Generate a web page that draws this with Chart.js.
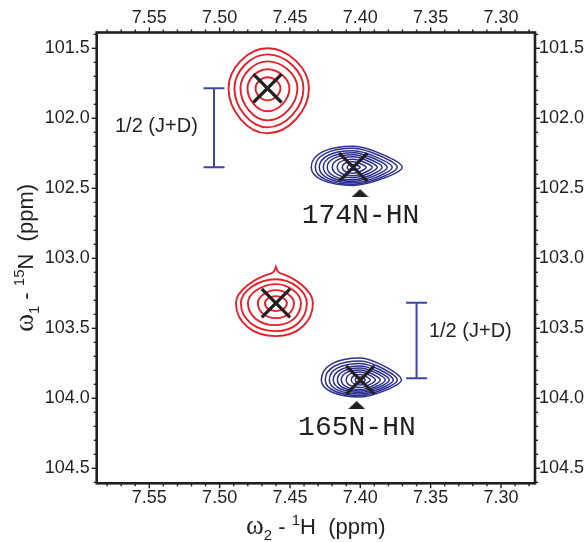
<!DOCTYPE html>
<html>
<head>
<meta charset="utf-8">
<script src="https://cdn.jsdelivr.net/npm/chart.js@4.4.0/dist/chart.umd.min.js"></script>
<style>
  html, body { margin: 0; padding: 0; background: #fff; }
</style>
</head>
<body>
<canvas id="hsqc" width="588" height="542"></canvas>
<script>
// axis ranges (ppm) and major tick labels
const hMin = 7.2758, hMax = 7.5874;
const nMin = 101.387, nMax = 104.607;
const hMajor = [7.55, 7.50, 7.45, 7.40, 7.35, 7.30];
const nMajor = [101.5, 102.0, 102.5, 103.0, 103.5, 104.0, 104.5];

// cross peak centres: 1H shift, 15N shift
const peakH = [7.466, 7.405, 7.460, 7.400];
const peakN = [101.786, 102.350, 103.320, 103.869];

// contour rings, outer to inner: [left, right, up, down] extent from centre in ppm
const rings174Red = [
  [0.0277, 0.0295, 0.286, 0.321],
  [0.0235, 0.0256, 0.243, 0.279],
  [0.0192, 0.0213, 0.193, 0.229],
  [0.0142, 0.0156, 0.136, 0.164],
  [0.0085, 0.0092, 0.079, 0.086]
];
const rings174Blue = [
  [0.0299, 0.0348, 0.150, 0.129],
  [0.0270, 0.0313, 0.136, 0.121],
  [0.0242, 0.0277, 0.118, 0.111],
  [0.0213, 0.0242, 0.104, 0.100],
  [0.0185, 0.0206, 0.089, 0.089],
  [0.0149, 0.0171, 0.075, 0.075],
  [0.0114, 0.0135, 0.057, 0.061],
  [0.0078, 0.0092, 0.039, 0.043],
  [0.0043, 0.0050, 0.021, 0.021]
];
const rings165Red = [
  [0.0284, 0.0263, 0.200, 0.236],
  [0.0249, 0.0220, 0.171, 0.200],
  [0.0199, 0.0178, 0.136, 0.157],
  [0.0128, 0.0128, 0.093, 0.107],
  [0.0078, 0.0078, 0.050, 0.057]
];
const rings165RedTip = 0.258;
const rings165Blue = [
  [0.0277, 0.0292, 0.157, 0.121],
  [0.0249, 0.0263, 0.136, 0.111],
  [0.0220, 0.0235, 0.118, 0.100],
  [0.0192, 0.0206, 0.100, 0.089],
  [0.0163, 0.0178, 0.086, 0.079],
  [0.0135, 0.0142, 0.071, 0.068],
  [0.0100, 0.0107, 0.057, 0.054],
  [0.0064, 0.0071, 0.039, 0.036],
  [0.0036, 0.0036, 0.021, 0.021]
];

// 1/2 (J+D) brackets
const bracketH = [7.504, 7.360];
const bracketTop = [101.786, 103.317];
const bracketBottom = [102.350, 103.857];
const bracketText = ["1/2 (J+D)", "1/2 (J+D)"];
const bracketTextH = [7.5744, 7.3512];
const bracketTextN = [102.060, 103.524];

// residue labels with their arrow heads
const residueLabels = ["174N-HN", "165N-HN"];
const residueH = [7.3999, 7.4024];
const residueN = [102.750, 104.262];
const arrowH = [7.4002, 7.4026];
const arrowN = [102.534, 104.048];

const ink = "#231f20";
const red = "#e6202a";
const navy = "#2b2f8e";
const bracketBlue = "#3c46a0";
const sans = "'Liberation Sans', Arial, sans-serif";

const contourSets = [
  { rings: rings174Red, peak: 0, color: red, width: 1.9, k: [0.5, 0.5, 0.5, 0.5] },
  { rings: rings174Blue, peak: 1, color: navy, width: 1.5, k: [0.62, 0.28, 0.3, 0.6] },
  { rings: rings165Red, peak: 2, color: red, width: 1.9, k: [0.5, 0.5, 0.58, 0.58], tip: rings165RedTip },
  { rings: rings165Blue, peak: 3, color: navy, width: 1.5, k: [0.62, 0.28, 0.3, 0.6] }
];

// arrow head image used as point style
const arrowImg = document.createElement("canvas");
arrowImg.width = 17;
arrowImg.height = 8;
const ac = arrowImg.getContext("2d");
ac.fillStyle = ink;
ac.beginPath();
ac.moveTo(8.5, 0);
ac.lineTo(17, 8);
ac.lineTo(0, 8);
ac.closePath();
ac.fill();

const stepTicks = (min, max, step, dec) => {
  const out = [];
  for (let i = Math.ceil(min / step - 1e-6); i * step <= max + 1e-9; i++) {
    out.push({ value: +(i * step).toFixed(dec) });
  }
  return out;
};
const isMajor = (list, v) => list.some((m) => Math.abs(m - v) < 1e-6);

const ringPath = (ctx, cx, cy, l, r, t, b, k, tip) => {
  ctx.beginPath();
  ctx.moveTo(cx - l, cy);
  if (tip) {
    // onion-like top rising smoothly into a small point
    ctx.bezierCurveTo(cx - l, cy - t * 0.45, cx - l * 0.5, cy - t * 0.9, cx - 7, cy - t - 1);
    ctx.bezierCurveTo(cx - 3, cy - t - 2, cx - 1.5, cy - tip + 5, cx, cy - tip);
    ctx.bezierCurveTo(cx + 1.5, cy - tip + 5, cx + 3, cy - t - 2, cx + 7, cy - t - 1);
    ctx.bezierCurveTo(cx + r * 0.5, cy - t * 0.9, cx + r, cy - t * 0.45, cx + r, cy);
  } else {
    ctx.bezierCurveTo(cx - l, cy - t * k[0], cx - l * k[0], cy - t, cx, cy - t);
    ctx.bezierCurveTo(cx + r * k[1], cy - t, cx + r, cy - t * k[1], cx + r, cy);
  }
  ctx.bezierCurveTo(cx + r, cy + b * k[2], cx + r * k[2], cy + b, cx, cy + b);
  ctx.bezierCurveTo(cx - l * k[3], cy + b, cx - l, cy + b * k[3], cx - l, cy);
  ctx.closePath();
};

const drawRich = (ctx, pieces, x, y) => {
  let total = 0;
  pieces.forEach((p) => {
    ctx.font = p.font;
    p.w = ctx.measureText(p.t).width;
    total += p.w;
  });
  let cur = x - total / 2;
  pieces.forEach((p) => {
    ctx.font = p.font;
    ctx.fillText(p.t, cur, y + (p.dy || 0));
    cur += p.w;
  });
};

const hsqcPlugin = {
  id: "hsqc",
  beforeDatasetsDraw(chart) {
    const { ctx, chartArea, scales } = chart;
    const xs = scales.x, ys = scales.y;
    ctx.save();
    ctx.beginPath();
    ctx.rect(chartArea.left, chartArea.top, chartArea.width, chartArea.height);
    ctx.clip();
    contourSets.forEach((set) => {
      const h = peakH[set.peak], n = peakN[set.peak];
      const cx = xs.getPixelForValue(h), cy = ys.getPixelForValue(n);
      ctx.strokeStyle = set.color;
      ctx.lineWidth = set.width;
      set.rings.forEach((ring, i) => {
        const l = cx - xs.getPixelForValue(h + ring[0]);
        const r = xs.getPixelForValue(h - ring[1]) - cx;
        const t = cy - ys.getPixelForValue(n - ring[2]);
        const b = ys.getPixelForValue(n + ring[3]) - cy;
        const tip = set.tip && i === 0 ? cy - ys.getPixelForValue(n - set.tip) : 0;
        ringPath(ctx, cx, cy, l, r, t, b, set.k, tip);
        ctx.stroke();
      });
    });
    ctx.restore();
  },
  afterDatasetsDraw(chart) {
    const { ctx, scales } = chart;
    const xs = scales.x, ys = scales.y;
    ctx.save();
    ctx.fillStyle = ink;
    ctx.font = "20px " + sans;
    ctx.textAlign = "left";
    ctx.textBaseline = "middle";
    bracketText.forEach((txt, i) => {
      ctx.fillText(txt, xs.getPixelForValue(bracketTextH[i]), ys.getPixelForValue(bracketTextN[i]));
    });
    ctx.font = "28px 'Liberation Mono', 'Courier New', monospace";
    ctx.textAlign = "center";
    ctx.textBaseline = "alphabetic";
    residueLabels.forEach((txt, i) => {
      ctx.fillText(txt, xs.getPixelForValue(residueH[i]), ys.getPixelForValue(residueN[i]));
    });
    ctx.restore();
  },
  afterDraw(chart) {
    const { ctx, chartArea } = chart;
    const { left, right, top, bottom } = chartArea;
    ctx.save();
    ctx.strokeStyle = ink;
    ctx.lineWidth = 1.4;
    ["x", "x2", "y", "y2"].forEach((id) => {
      const s = chart.scales[id];
      const major = id[0] === "x" ? hMajor : nMajor;
      s.ticks.forEach((tk) => {
        const p = s.getPixelForValue(tk.value);
        const len = isMajor(major, tk.value) ? 5 : 3;
        ctx.beginPath();
        if (id === "x") { ctx.moveTo(p, bottom); ctx.lineTo(p, bottom + len); }
        if (id === "x2") { ctx.moveTo(p, top); ctx.lineTo(p, top - len); }
        if (id === "y") { ctx.moveTo(left, p); ctx.lineTo(left - len, p); }
        if (id === "y2") { ctx.moveTo(right, p); ctx.lineTo(right + len, p); }
        ctx.stroke();
      });
    });
    ctx.lineWidth = 2.6;
    ctx.strokeRect(left, top, right - left, bottom - top);

    ctx.fillStyle = ink;
    ctx.textAlign = "left";
    ctx.textBaseline = "alphabetic";
    drawRich(ctx, [
      { t: "\u03c9", font: "27px 'Liberation Serif', serif" },
      { t: "2", font: "15px " + sans, dy: 6 },
      { t: " - ", font: "22px " + sans },
      { t: "1", font: "15px " + sans, dy: -9 },
      { t: "H  (ppm)", font: "22px " + sans }
    ], (left + right) / 2, 534);
    ctx.translate(33, (top + bottom) / 2);
    ctx.rotate(-Math.PI / 2);
    drawRich(ctx, [
      { t: "\u03c9", font: "27px 'Liberation Serif', serif" },
      { t: "1", font: "15px " + sans, dy: 6 },
      { t: " - ", font: "22px " + sans },
      { t: "15", font: "15px " + sans, dy: -9 },
      { t: "N  (ppm)", font: "22px " + sans }
    ], 0, 0);
    ctx.restore();
  }
};

const tickFont = { family: sans, size: 18 };
const hScale = (position, height, padding) => ({
  type: "linear",
  position,
  reverse: true,
  min: hMin,
  max: hMax,
  grid: { display: false, drawTicks: false },
  border: { display: false },
  afterBuildTicks: (s) => { s.ticks = stepTicks(hMin, hMax, 0.01, 2); },
  afterFit: (s) => { s.height = height; },
  ticks: {
    autoSkip: false, maxRotation: 0, minRotation: 0, padding, color: ink, font: tickFont,
    callback: (v) => (isMajor(hMajor, v) ? v.toFixed(2) : "")
  }
});
const nScale = (position, width, padding) => ({
  type: "linear",
  position,
  reverse: true,
  min: nMin,
  max: nMax,
  grid: { display: false, drawTicks: false },
  border: { display: false },
  afterBuildTicks: (s) => { s.ticks = stepTicks(nMin, nMax, 0.1, 1); },
  afterFit: (s) => { s.width = width; },
  ticks: {
    autoSkip: false, padding, color: ink, font: tickFont,
    callback: (v) => (isMajor(nMajor, v) ? v.toFixed(1) : "")
  }
});

new Chart(document.getElementById("hsqc"), {
  type: "scatter",
  data: {
    datasets: [
      {
        label: "peaks",
        data: peakH.map((h, i) => ({ x: h, y: peakN[i] })),
        pointStyle: "crossRot",
        pointRadius: 20,
        borderWidth: 3.2,
        borderColor: ink,
        backgroundColor: ink
      },
      ...bracketH.map((h, i) => ({
        label: "bracket " + i,
        data: [{ x: h, y: bracketTop[i] }, { x: h, y: bracketBottom[i] }],
        showLine: true,
        pointStyle: "line",
        pointRadius: 10.5,
        borderWidth: 2,
        borderColor: bracketBlue,
        backgroundColor: bracketBlue
      })),
      {
        label: "arrows",
        data: arrowH.map((h, i) => ({ x: h, y: arrowN[i] })),
        pointStyle: arrowImg,
        pointRadius: 8
      }
    ]
  },
  options: {
    responsive: false,
    animation: false,
    events: [],
    layout: { padding: 0 },
    plugins: { legend: { display: false }, tooltip: { enabled: false } },
    scales: {
      x: hScale("bottom", 542 - 483.3, 4),
      x2: hScale("top", 32.5, 4),
      y: nScale("left", 96.7, 7),
      y2: nScale("right", 588 - 535, 4)
    }
  },
  plugins: [hsqcPlugin]
});
</script>
</body>
</html>
